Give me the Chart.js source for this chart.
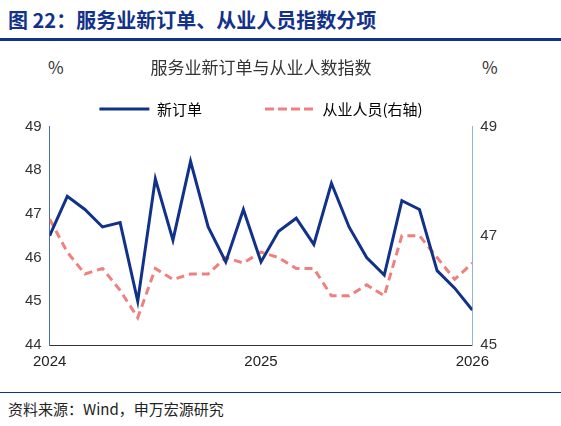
<!DOCTYPE html>
<html>
<head>
<meta charset="utf-8">
<script src="https://cdn.jsdelivr.net/npm/chart.js@4"></script>
<style>
  body { margin: 0; width: 561px; height: 426px; background: #fff; font-family: "Noto Sans CJK SC", "Noto Sans", sans-serif; position: relative; overflow: hidden; }
  .head { position: absolute; left: 8px; top: 5px; font-size: 20px; font-weight: bold; color: #12328a; }
  .headline { position: absolute; left: 0; top: 38px; width: 561px; height: 3px; background: #12328a; }
  .foot { position: absolute; left: 8px; top: 398px; font-size: 15px; color: #222; }
  .footline { position: absolute; left: 0; top: 392px; width: 561px; height: 1px; background: #12328a; }
  .pct { position: absolute; top: 54px; font-size: 17px; color: #333; }
  #wrap { position: absolute; left: 0; top: 44px; width: 561px; height: 330px; }
</style>
</head>
<body>
<div class="head">图 22：服务业新订单、从业人员指数分项</div>
<div class="headline"></div>
<div class="pct" style="left:48px">%</div>
<div class="pct" style="left:482px">%</div>
<div id="wrap"><canvas id="c"></canvas></div>
<div class="footline"></div>
<div class="foot">资料来源：Wind，申万宏源研究</div>
<script>
// monthly, Jan 2024 .. Jan 2026
const months = Array.from({ length: 25 }, (_, i) => i);
const newOrders = [46.5, 47.4, 47.1, 46.7, 46.8, 45.0, 47.8, 46.4, 48.2, 46.7, 45.9, 47.1,
  45.9, 46.6, 46.9, 46.3, 47.7, 46.7, 46.0, 45.6, 47.3, 47.1, 45.7, 45.3, 44.8];
const employment = [47.3, 46.7, 46.3, 46.4, 46.0, 45.5, 46.4, 46.2, 46.3, 46.3, 46.6, 46.5,
  46.7, 46.6, 46.4, 46.4, 45.9, 45.9, 46.1, 45.9, 47.0, 47.0, 46.6, 46.2, 46.5];
const yearTicks = { 0: '2024', 12: '2025', 24: '2026' };

new Chart(document.getElementById('c'), {
  type: 'line',
  data: {
    datasets: [
      {
        label: '新订单',
        data: months.map((m, i) => ({ x: m, y: newOrders[i] })),
        borderColor: '#12328a',
        borderWidth: 3,
        pointRadius: 0,
        tension: 0,
        yAxisID: 'y'
      },
      {
        label: '从业人员(右轴)',
        data: months.map((m, i) => ({ x: m, y: employment[i] })),
        borderColor: '#f08080',
        borderWidth: 3,
        borderDash: [8, 5],
        pointRadius: 0,
        tension: 0,
        yAxisID: 'y1'
      }
    ]
  },
  options: {
    responsive: true,
    maintainAspectRatio: false,
    animation: false,
    layout: { padding: { left: 22, right: 61, top: 0, bottom: 0 } },
    plugins: {
      title: {
        display: true,
        text: '服务业新订单与从业人数指数',
        color: '#333',
        font: { size: 17, family: '"Noto Sans CJK SC"', weight: 'normal' },
        padding: { top: 13, bottom: 8 }
      },
      legend: {
        position: 'top',
        labels: {
          boxWidth: 50,
          boxHeight: 0,
          color: '#222',
          font: { size: 15, family: '"Noto Sans CJK SC"' },
          padding: 16,
          generateLabels: chart => chart.data.datasets.map((d, i) => ({
            text: d.label + (i === 0 ? '              ' : ''),
            strokeStyle: d.borderColor,
            lineWidth: 3,
            lineDash: d.borderDash || [],
            fillStyle: d.borderColor,
            datasetIndex: i
          }))
        }
      }
    },
    scales: {
      x: {
        type: 'linear',
        min: 0,
        max: 24,
        grid: { display: false, drawTicks: true, tickLength: 5, tickColor: '#333' },
        border: { color: '#333' },
        afterBuildTicks: axis => { axis.ticks = [0, 12, 24].map(v => ({ value: v })); },
        ticks: {
          color: '#222',
          font: { size: 15, family: 'Liberation Sans' },
          callback: v => yearTicks[v] || ''
        }
      },
      y: {
        position: 'left',
        min: 44,
        max: 49,
        grid: { display: false, tickLength: 5, tickColor: '#4a6fb0' },
        border: { color: '#4a6fb0' },
        ticks: { stepSize: 1, color: '#333', font: { size: 15, family: 'Liberation Sans' } }
      },
      y1: {
        position: 'right',
        min: 45,
        max: 49,
        grid: { display: false, tickLength: 5, tickColor: '#8fb3dd' },
        border: { color: '#8fb3dd' },
        ticks: { stepSize: 2, color: '#333', font: { size: 15, family: 'Liberation Sans' } }
      }
    }
  }
});
</script>
</body>
</html>
